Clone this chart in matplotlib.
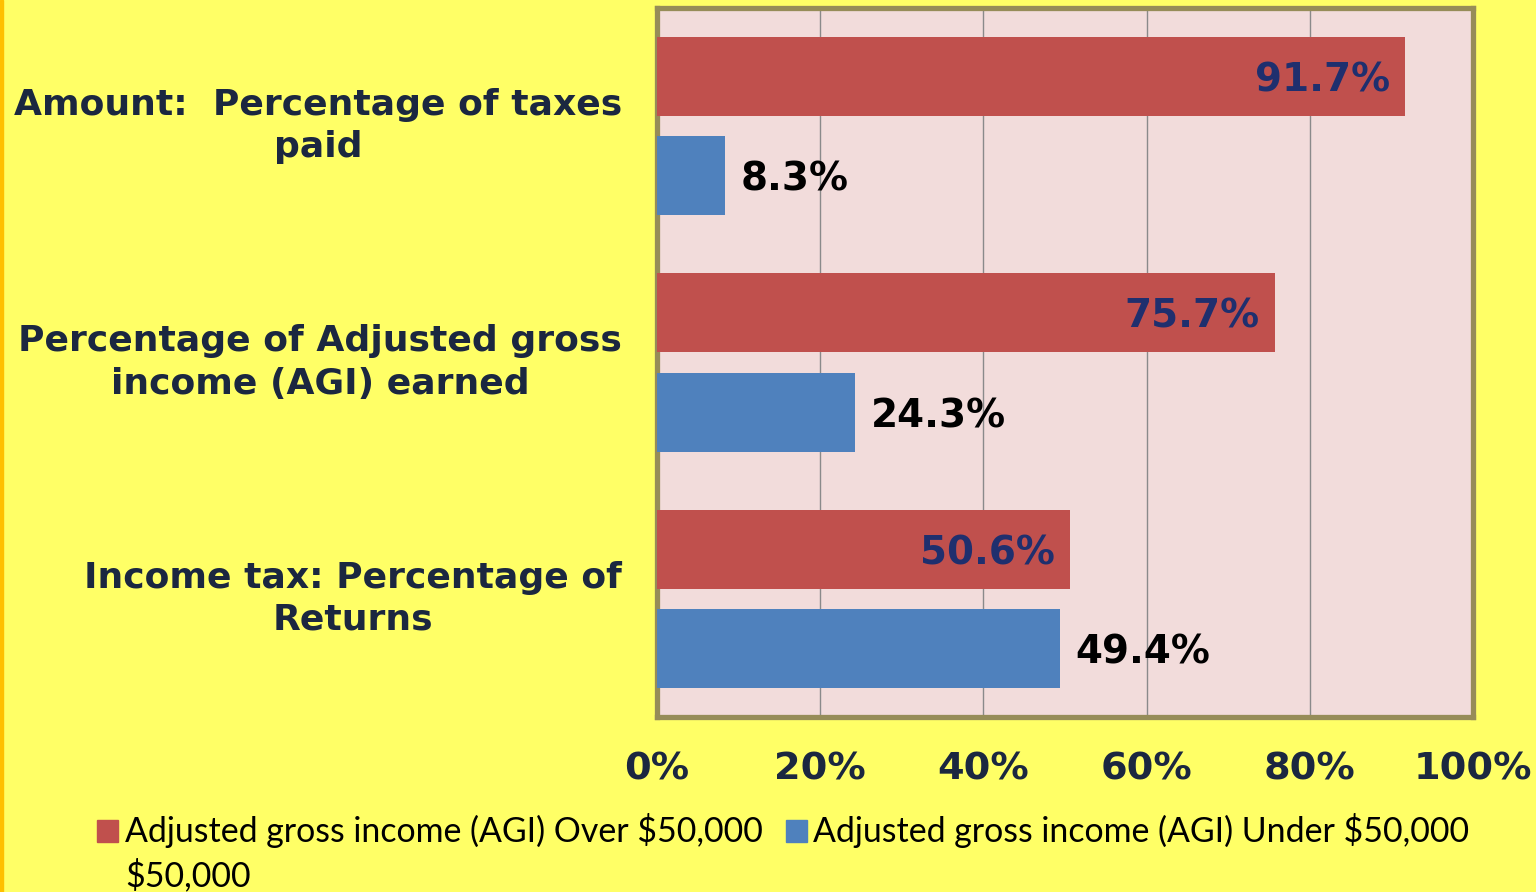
import matplotlib
matplotlib.use("Agg")
import matplotlib.pyplot as plt
from matplotlib.patches import Rectangle
import numpy as np

# --- Data ---

categories = [
    "Amount:  Percentage of taxes\npaid",
    "Percentage of Adjusted gross\nincome (AGI) earned",
    "Income tax: Percentage of\nReturns",
]
over_50k = [91.7, 75.7, 50.6]
under_50k = [8.3, 24.3, 49.4]
series_names = [
    "Adjusted gross income (AGI) Over $50,000",
    "Adjusted gross income (AGI) Under $50,000",
]
x_ticks = [0, 20, 40, 60, 80, 100]

# --- Style ---

BG = '#FFFF66'
PLOT_BG = '#F2DCDB'
RED = '#C0504D'
BLUE = '#4F81BD'
NAVY = '#1B2740'
FRAME = '#968C58'

fig = plt.figure(figsize=(15.36, 8.92), dpi=100, facecolor=BG)
ax = fig.add_axes([657 / 1536, 1 - 717 / 892, (1473 - 657) / 1536, (717 - 8) / 892])
ax.set_facecolor(PLOT_BG)

# orange stripe down the left edge of the slide
fig.patches.append(Rectangle((0, 0), 3 / 1536, 1, transform=fig.transFigure,
                             color='#FFC000', zorder=0))

y = np.arange(len(categories))
h = 0.335
off = 0.21
ax.barh(y - off, over_50k, h, color=RED, zorder=3)
ax.barh(y + off, under_50k, h, color=BLUE, zorder=3)

ax.set_xlim(0, 100)
ax.set_ylim(2.5, -0.5)
ax.set_xticks(x_ticks)
ax.set_xticklabels([f'{t}%' for t in x_ticks], fontsize=27.5, fontweight='bold', color=NAVY)
ax.tick_params(axis='x', length=0, pad=25)
ax.set_yticks([])
ax.grid(axis='x', color='#8A8A8A', linewidth=1.0, zorder=1)
ax.set_axisbelow(True)
for sp in ax.spines.values():
    sp.set_color(FRAME)
    sp.set_linewidth(3.8)

# value labels
for yi, v in zip(y, over_50k):
    ax.text(v - 1.9, yi - off, f'{v}%', ha='right', va='center_baseline',
            fontsize=28, fontweight='bold', color='#1F2F6E', zorder=4)
for yi, v in zip(y, under_50k):
    ax.text(v + 1.9, yi + off, f'{v}%', ha='left', va='center_baseline',
            fontsize=28, fontweight='bold', color='black', zorder=4)

# category labels, right-aligned block with centred lines
for yi, lab in zip(y, categories):
    ax.text(-0.043, yi, lab, ha='right', va='center', multialignment='center',
            fontsize=26, fontweight='bold', color=NAVY, linespacing=1.3,
            transform=ax.get_yaxis_transform(), clip_on=False)

# legend
leg_font = dict(fontsize=24.4, color='black', family='Lato', va='center')
fig.patches.append(Rectangle((97 / 1536, 1 - 842 / 892), 21 / 1536, 22 / 892,
                             transform=fig.transFigure, color=RED))
fig.text(125 / 1536, 1 - 831 / 892, series_names[0], **leg_font)
fig.patches.append(Rectangle((786 / 1536, 1 - 842 / 892), 21 / 1536, 22 / 892,
                             transform=fig.transFigure, color=BLUE))
fig.text(813 / 1536, 1 - 831 / 892, series_names[1], **leg_font)
fig.text(125 / 1536, 1 - 875 / 892, '$50,000', **leg_font)

fig.savefig('out.png', dpi=100, facecolor=BG)
